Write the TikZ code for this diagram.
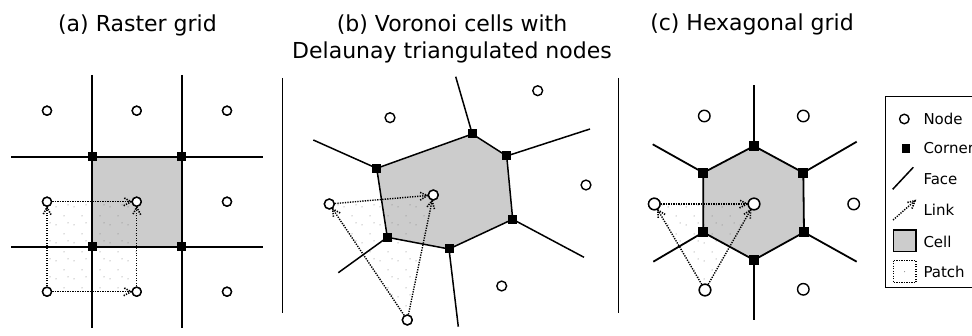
\documentclass[tikz,border=0pt]{standalone}
\usepackage{fontspec}
\setmainfont{DejaVu Sans}
\usetikzlibrary{calc,patterns}
\definecolor{cellgray}{HTML}{CCCCCC}
\pgfdeclarepatternformonly{sparsedots}{\pgfqpoint{-1pt}{-1pt}}{\pgfqpoint{19pt}{19pt}}{\pgfqpoint{18pt}{18pt}}{%
  \pgfpathcircle{\pgfqpoint{2pt}{3pt}}{0.5pt}%
  \pgfpathcircle{\pgfqpoint{10pt}{12pt}}{0.5pt}%
  \pgfpathcircle{\pgfqpoint{14pt}{5pt}}{0.5pt}%
  \pgfusepath{fill}}
\newcommand\linkarr[3]{%
  \draw[linkline] (#1) -- (#2);
  \coordinate (tip) at ($(#2.center)!#3!(#1.center)$);
  \draw[linkline, line width=1.6pt] ($(tip)!8.5pt!28:(#1.center)$) -- (tip) -- ($(tip)!8.5pt!-28:(#1.center)$);
}
\begin{document}
\begin{tikzpicture}[x=1pt,y=-1pt,
  face/.style={line width=1.8pt},
  faceb/.style={line width=1.5pt},
  linkline/.style={line width=1.4pt, dash pattern=on 1.3pt off 1.2pt, black},
  nodeA/.style={circle, draw, fill=white, line width=1.4pt, inner sep=0pt, minimum size=9pt},
  nodeB/.style={nodeA, minimum size=9.8pt},
  nodeC/.style={nodeA, minimum size=11.5pt},
  cornerA/.style={rectangle, fill=black, inner sep=0pt, minimum size=9pt},
  cornerC/.style={cornerA, minimum size=10pt},
  title/.style={font=\fontsize{22}{26}\selectfont, inner sep=0pt, anchor=base},
  legtext/.style={font=\fontsize{15}{17}\selectfont, inner sep=0pt, anchor=base west},
  patch/.style={pattern=sparsedots, pattern color=black!55},
]
\clip (0,0) rectangle (972,336);
\fill[white] (0,0) rectangle (972,336);

% titles
\node[title] (ta) at (137.5,32) {(a) Raster grid};
\node[title] (tb1) at (452,32) {(b) Voronoi cells with};
\node[title] (tb2) at (452,59) {Delaunay triangulated nodes};
\node[title] (tc) at (752,31) {(c) Hexagonal grid};

% ---------- panel (a) ----------
\fill[cellgray] (92.3,156.7) rectangle (181.7,246.7);
\fill[patch] (47,201.7) rectangle (136.7,291.7);
\draw[face] (92.3,75) -- (92.3,328);
\draw[face] (181.7,75) -- (181.7,328);
\draw[face] (11,156.7) -- (263,156.7);
\draw[face] (11,246.7) -- (263,246.7);
\node[cornerA] (ac11) at (92.3,156.7) {};
\node[cornerA] (ac12) at (181.7,156.7) {};
\node[cornerA] (ac21) at (92.3,246.7) {};
\node[cornerA] (ac22) at (181.7,246.7) {};
\foreach \r/\yy in {1/110.7,2/201.7,3/291.7}{
  \foreach \c/\xx in {1/47,2/136.7,3/227}{
    \node[nodeA] (an\r\c) at (\xx,\yy) {};
  }
}
\linkarr{an31}{an32}{5.5pt}
\linkarr{an31}{an21}{5.5pt}
\linkarr{an21}{an22}{5.5pt}
\linkarr{an32}{an22}{5.5pt}
\foreach \r in {1,2,3}{\foreach \c in {1,2,3}{\node[nodeA] at (an\r\c) {};}}

% ---------- panel (b) ----------
\draw[faceb] (282.7,78) -- (282.7,313);
\coordinate (bA) at (376.7,168.3);
\coordinate (bB) at (472.3,134);
\coordinate (bC) at (506.7,156);
\coordinate (bD) at (512.7,219.3);
\coordinate (bE) at (449,249);
\coordinate (bF) at (387.3,237.3);
\fill[cellgray] (bA) -- (bB) -- (bC) -- (bD) -- (bE) -- (bF) -- cycle;
\node[nodeB] (bn0) at (433.3,195) {};
\node[nodeB] (bnl) at (329.3,204) {};
\node[nodeB] (bnb) at (407.3,320) {};
\fill[patch] (bnl.center) -- (bn0.center) -- (bnb.center) -- cycle;
\draw[faceb] (bA) -- (bB) -- (bC) -- (bD) -- (bE) -- (bF) -- cycle;
\draw[faceb] (bA) -- (313.3,140);
\draw[faceb] (bB) -- (455.7,76.7);
\draw[faceb] (bC) -- (590,129);
\draw[faceb] (bD) -- (584,257.3);
\draw[faceb] (bE) -- (458.3,326.7);
\draw[faceb] (bF) -- (338.3,272.7);
\foreach \p in {A,B,C,D,E,F}{\node[cornerA] (bc\p) at (b\p) {};}
\node[nodeB] (bn1) at (390,117.7) {};
\node[nodeB] (bn2) at (537.7,90.7) {};
\node[nodeB] (bn3) at (586,185) {};
\node[nodeB] (bn4) at (501.7,286) {};
\linkarr{bnl}{bn0}{6pt}
\linkarr{bnb}{bnl}{6pt}
\linkarr{bnb}{bn0}{6pt}
\node[nodeB] at (bn0) {};
\node[nodeB] at (bnl) {};
\node[nodeB] at (bnb) {};

% ---------- panel (c) ----------
\draw[faceb] (618.3,78) -- (618.3,313);
\coordinate (cT) at (754,146);
\coordinate (cUR) at (803.3,172.7);
\coordinate (cLR) at (804,232.3);
\coordinate (cB) at (754,260);
\coordinate (cLL) at (703.3,232.3);
\coordinate (cUL) at (703.3,172.7);
\fill[cellgray] (cT) -- (cUR) -- (cLR) -- (cB) -- (cLL) -- (cUL) -- cycle;
\node[nodeC] (cn0) at (754,204) {};
\node[nodeC] (cnl) at (654.3,204) {};
\node[nodeC] (cnbl) at (705,290) {};
\fill[patch] (cnl.center) -- (cn0.center) -- (cnbl.center) -- cycle;
\draw[face] (cT) -- (cUR) -- (cLR) -- (cB) -- (cLL) -- (cUL) -- cycle;
\draw[face] (cT) -- (754,85);
\draw[face] (cUR) -- (856.7,141.7);
\draw[face] (cLR) -- (856.7,261.7);
\draw[face] (cB) -- (754,320);
\draw[face] (cLL) -- (653.3,261.7);
\draw[face] (cUL) -- (652.7,144.3);
\foreach \p in {T,UR,LR,B,LL,UL}{\node[cornerC] (cc\p) at (c\p) {};}
\node[nodeC] (cnr) at (853.7,204) {};
\node[nodeC] (cntl) at (704.3,116) {};
\node[nodeC] (cntr) at (803.3,116) {};
\node[nodeC] (cnbr) at (803.3,289.3) {};
\linkarr{cnl}{cn0}{7pt}
\linkarr{cnbl}{cnl}{7pt}
\linkarr{cnbl}{cn0}{7pt}
\node[nodeC] at (cn0) {};
\node[nodeC] at (cnl) {};
\node[nodeC] at (cnbl) {};

% ---------- legend ----------
\draw[line width=1pt] (885,96.7) rectangle (1000,287.3);
\node[nodeA, minimum size=9.5pt] (lnode) at (904.3,119) {};
\node[legtext] (lnodet) at (923.3,124.5) {Node};
\node[cornerA, minimum size=8.5pt] (lcorner) at (906,148.3) {};
\node[legtext] (lcornert) at (923.3,153.8) {Corner};
\draw[faceb] (892.7,189.3) -- (913.3,167.3);
\node[legtext] (lfacet) at (923.3,184.5) {Face};
\coordinate (llink0) at (893,220);
\coordinate (llink1) at (915,200.7);
\linkarr{llink0}{llink1}{0pt}
\node[legtext] (llinkt) at (923.3,215.5) {Link};
\draw[line width=1.4pt, fill=cellgray] (893.3,230) rectangle (916,251.7);
\node[legtext] (lcellt) at (923.3,247.2) {Cell};
\draw[linkline] (893.3,260.7) rectangle (916,282.7);
\fill[black!60] (904.6,271.7) circle (0.5pt);
\node[legtext] (lpatcht) at (923.3,277.2) {Patch};
\end{tikzpicture}
\end{document}
